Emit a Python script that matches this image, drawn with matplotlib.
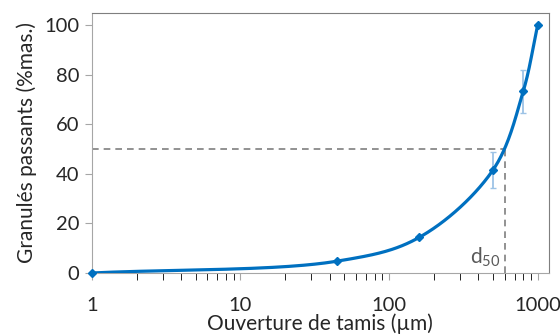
import numpy as np
import matplotlib
matplotlib.use("Agg")
import matplotlib.pyplot as plt

plt.rcParams['font.family'] = ['Lato', 'DejaVu Sans']
plt.rcParams['mathtext.fontset'] = 'custom'
plt.rcParams['mathtext.rm'] = 'Lato'
plt.rcParams['mathtext.it'] = 'Lato'

# sieve openings (um) and cumulative passing (% mass)
ouverture = [1, 45, 160, 500, 800, 1000]
passants = [0, 4.8, 14.4, 41.5, 73.3, 100]
erreur = [0, 0, 0, 7.3, 8.7, 0]
d50 = 600
x_ticks = [1, 10, 100, 1000]
y_ticks = [0, 20, 40, 60, 80, 100]

blue = '#0070C0'


def smooth(ax, xs, ys, n=60, alpha=0.5):
    # centripetal Catmull-Rom through the points, computed in screen space
    pts = ax.transData.transform(np.column_stack([xs, ys]))
    pts = np.vstack([2 * pts[0] - pts[1], pts, 2 * pts[-1] - pts[-2]])
    out = []
    for i in range(1, len(pts) - 2):
        p0, p1, p2, p3 = pts[i - 1], pts[i], pts[i + 1], pts[i + 2]
        t0 = 0.0
        t1 = t0 + np.linalg.norm(p1 - p0) ** alpha
        t2 = t1 + np.linalg.norm(p2 - p1) ** alpha
        t3 = t2 + np.linalg.norm(p3 - p2) ** alpha
        t = np.linspace(t1, t2, n)[:, None]
        a1 = (t1 - t) / (t1 - t0) * p0 + (t - t0) / (t1 - t0) * p1
        a2 = (t2 - t) / (t2 - t1) * p1 + (t - t1) / (t2 - t1) * p2
        a3 = (t3 - t) / (t3 - t2) * p2 + (t - t2) / (t3 - t2) * p3
        b1 = (t2 - t) / (t2 - t0) * a1 + (t - t0) / (t2 - t0) * a2
        b2 = (t3 - t) / (t3 - t1) * a2 + (t - t1) / (t3 - t1) * a3
        c = (t2 - t) / (t2 - t1) * b1 + (t - t1) / (t2 - t1) * b2
        out.append(c)
    out = np.vstack(out)
    data = ax.transData.inverted().transform(out)
    return data[:, 0], data[:, 1]


fig = plt.figure(figsize=(5.6, 3.36), dpi=100)
ax = fig.add_axes([0.164, 0.1875, 0.816, 0.774])

ax.set_xscale('log')
ax.set_xlim(1, 1190)
ax.set_ylim(0, 105)

sx, sy = smooth(ax, ouverture, passants)
ax.plot(sx, sy, color=blue, lw=2.3, zorder=3, solid_capstyle='round')
ax.plot(ouverture, passants, 'D', color=blue, ms=4.5, zorder=4, clip_on=False)
err_idx = [i for i, e in enumerate(erreur) if e > 0]
ax.errorbar([ouverture[i] for i in err_idx], [passants[i] for i in err_idx],
            yerr=[erreur[i] for i in err_idx], fmt='none', ecolor='#9DC3E6',
            elinewidth=1.3, capsize=2.5, capthick=1.0, zorder=2)

# d50 guide lines
ax.plot([1, d50], [50, 50], ls=(0, (4, 3)), color='#7F7F7F', lw=1.2, zorder=1)
ax.plot([d50, d50], [0, 50], ls=(0, (4, 3)), color='#7F7F7F', lw=1.2, zorder=1)
ax.annotate(r'd$_{\mathregular{50}}$', xy=(d50, 0), xytext=(-4, 4),
            textcoords='offset pixels', color='#595959', fontsize=15,
            ha='right', va='bottom')

ax.set_xticks(x_ticks)
ax.set_xticklabels([str(v) for v in x_ticks])
ax.set_yticks(y_ticks)
ax.tick_params(axis='both', labelsize=14.5, labelcolor='#262626', length=5,
               color='#A6A6A6', pad=4)
ax.tick_params(axis='x', which='both', length=5, pad=12)
for side in ['top', 'right']:
    ax.spines[side].set_color('#7F7F7F')
for side in ['left', 'bottom']:
    ax.spines[side].set_color('#A6A6A6')

ax.set_xlabel('Ouverture de tamis (µm)', fontsize=15, color='#262626', labelpad=0)
ax.set_ylabel('Granulés passants (%mas.)', fontsize=15, color='#262626', labelpad=5)

fig.savefig('out.png', dpi=100)
